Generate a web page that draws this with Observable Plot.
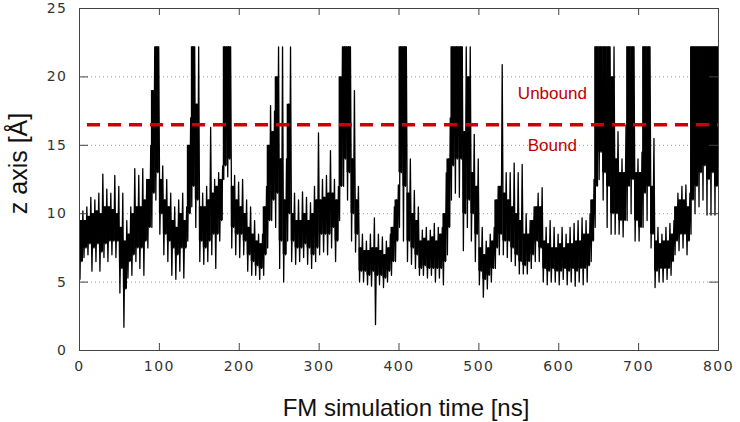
<!DOCTYPE html>
<html><head><meta charset="utf-8">
<script src="https://cdn.jsdelivr.net/npm/d3@7"></script>
<script src="https://cdn.jsdelivr.net/npm/@observablehq/plot@0.6"></script>
<style>
body{margin:0;background:#fff}
g[aria-label="x-axis tick label"] text, g[aria-label="y-axis tick label"] text{letter-spacing:1.5px}
</style></head><body><div id="chart"></div>
<script>
// FM simulation trace, summarized per 5 ns window
const binWidth = 5;
const times = d3.range(0, 800, binWidth);
const spikeLow = [
5.2,6.8,7.0,5.8,6.5,5.8,6.8,6.5,7.0,6.8,
4.2,1.7,5.3,5.5,6.5,6.0,5.5,7.5,9.0,11.0,
8.5,7.0,6.5,5.5,5.2,5.8,5.3,8.0,10.5,9.0,
6.5,6.3,6.5,7.0,6.0,8.0,12.5,12.7,7.5,7.0,
6.8,7.0,5.8,5.5,5.5,5.2,5.5,7.5,9.5,9.0,
6.0,5.0,8.0,6.5,6.3,6.5,6.8,6.3,6.0,6.5,
7.0,7.2,7.0,7.5,6.5,9.5,12.0,11.0,8.0,7.2,
5.0,5.0,4.8,4.7,1.9,4.8,4.6,5.0,5.5,6.5,
9.0,8.0,6.5,6.3,6.0,5.5,5.5,5.3,5.5,5.0,
5.3,4.8,7.0,11.0,11.5,11.2,7.3,9.0,8.0,6.5,
4.8,3.9,4.5,5.0,6.0,7.0,7.0,6.8,6.5,6.2,
5.6,5.6,5.6,6.0,6.5,6.5,5.0,4.8,5.0,5.0,
4.8,5.2,4.8,5.0,4.7,5.0,4.8,5.0,6.5,9.0,
12.5,11.0,9.0,8.5,8.5,8.5,8.3,9.5,10.0,8.0,
8.0,9.0,9.5,7.5,4.6,5.0,5.0,5.2,5.5,7.0,
7.3,7.5,7.0,8.5,10.0,10.5,11.0,9.9,9.9,9.9];
const coreLow = [
6.5,7.5,7.8,7.5,7.8,7.2,7.8,8.0,8.0,8.0,
6.0,4.5,6.5,7.0,7.5,7.5,8.0,9.0,11.5,13.0,
10.0,8.5,8.0,7.5,7.0,7.5,7.5,10.0,12.0,11.0,
8.0,7.5,8.0,8.5,8.5,9.5,13.5,14.0,9.0,8.5,
8.5,8.0,7.0,6.5,6.2,6.0,7.0,9.5,11.0,11.5,
8.0,7.0,10.0,8.0,7.5,7.5,7.8,7.5,7.0,7.5,
8.5,8.5,8.5,9.0,8.0,12.0,14.0,13.0,10.0,8.5,
5.8,5.8,5.5,5.8,5.5,5.5,5.3,5.8,6.5,8.0,
13.0,12.0,8.0,7.5,7.0,6.0,6.2,6.0,6.0,6.0,
6.0,6.5,9.0,13.5,14.0,14.0,10.0,11.0,10.0,8.5,
5.8,5.2,5.5,6.0,7.5,8.5,8.0,8.0,7.5,7.0,
6.5,6.2,6.5,7.0,8.0,7.5,6.0,5.8,6.0,5.8,
5.8,6.0,5.8,6.0,5.8,6.0,6.0,6.2,8.0,12.0,
14.5,13.0,12.0,10.0,10.0,9.5,9.5,12.0,12.5,9.5,
9.0,11.5,12.0,8.5,5.8,6.0,6.0,6.0,6.5,8.0,
8.5,8.5,8.0,11.0,12.0,13.0,13.5,12.5,13.0,12.0];
const coreHigh = [
9.5,9.5,9.8,10.0,10.2,10.0,10.5,10.5,10.3,10.0,
9.0,8.0,8.5,10.0,10.5,10.5,11.0,12.5,19.0,22.2,
12.5,11.0,10.5,9.5,9.0,10.0,9.5,15.0,22.2,18.0,
10.5,10.5,11.0,11.5,12.0,12.5,22.2,22.2,12.0,11.0,
10.5,10.0,9.0,8.5,8.0,7.8,10.5,15.0,16.0,20.0,
14.0,11.0,18.0,10.0,9.5,9.5,10.0,9.5,10.0,11.0,
11.0,11.2,11.5,11.5,11.0,20.0,22.2,22.2,14.0,11.0,
7.5,7.3,7.3,7.5,7.5,7.3,7.0,7.5,9.0,11.0,
22.2,22.2,11.5,10.0,9.5,8.0,8.2,8.0,8.3,8.0,
8.5,10.0,14.0,22.2,22.2,22.2,16.0,20.0,13.0,12.0,
7.5,7.0,7.5,8.0,11.0,12.0,11.5,11.0,10.5,10.0,
9.5,8.5,8.5,9.5,10.5,10.5,8.0,7.8,7.5,7.5,
7.8,7.5,7.8,7.8,8.0,8.0,8.5,8.5,11.0,22.2,
22.2,22.2,22.2,20.0,14.0,13.0,13.0,22.2,22.2,13.0,
13.0,22.2,22.2,12.0,8.0,7.8,8.0,8.0,8.5,10.5,
11.0,11.0,10.5,22.2,22.2,22.2,22.2,22.2,22.2,22.2];
const spikeHigh = [
10.2,10.5,11.2,11.0,11.5,12.9,11.8,11.5,12.8,12.0,
11.5,9.5,10.5,13.3,12.8,13.3,12.5,15.0,22.2,22.2,
13.5,12.5,11.5,10.5,11.0,11.5,10.5,17.0,22.2,22.2,
11.5,12.0,16.3,12.5,13.0,13.5,22.2,22.2,12.8,12.3,
12.5,11.0,10.5,9.5,8.5,8.5,12.0,17.9,17.5,22.2,
22.2,14.0,22.2,11.5,11.0,11.6,11.2,10.8,12.0,15.9,
12.5,12.8,14.6,12.5,12.0,22.2,22.2,22.2,19.0,12.0,
8.5,8.0,8.5,9.7,8.5,8.3,8.0,8.5,10.5,12.1,
22.2,22.2,14.0,11.7,10.5,8.8,9.0,8.8,9.3,9.0,
9.0,13.0,17.0,22.2,22.2,22.2,22.2,22.2,15.8,14.0,
9.0,8.0,8.5,9.0,12.0,20.9,13.0,13.0,13.7,13.0,
13.6,10.0,9.5,10.5,11.5,11.9,9.0,9.5,9.0,8.5,
9.0,8.5,9.0,9.3,9.5,9.7,9.5,10.0,12.5,22.2,
22.2,22.2,22.2,22.2,16.0,14.0,16.5,22.2,22.2,14.0,
14.5,22.2,22.2,15.5,9.0,8.5,9.0,9.3,9.5,11.5,
12.0,12.1,11.5,22.2,22.2,22.2,22.2,22.2,22.2,22.2];

const xTicks = [0,100,200,300,400,500,600,700,800];
const yTicks = [0,5,10,15,20,25];
const gridValues = [5,10,15,20];
const innerXTicks = [100,200,300,400,500,600,700];
const innerYTicks = [5,10,15,20];
const threshold = [{z: 16.5, start: 10, end: 800}];
const annotations = [{label: "Unbound", t: 592, z: 18.8}, {label: "Bound", t: 592, z: 14.95}];
const xTitle = "FM simulation time [ns]";
const yTitle = "z axis [Å]";

const bins = times.map((t, i) => ({t, lo: spikeLow[i], clo: coreLow[i], chi: coreHigh[i], hi: spikeHigh[i]}));
// each window's four read values, visited in turn so the trace zigzags like the original noise
const zig = bins.flatMap(b => [
  {t: b.t + 0.6, z: b.lo}, {t: b.t + 1.8, z: b.chi}, {t: b.t + 3.0, z: b.clo}, {t: b.t + 4.2, z: b.hi}
]);

const plot = Plot.plot({
  width: 740, height: 422,
  marginLeft: 79, marginRight: 22, marginTop: 8, marginBottom: 72,
  x: {domain: [0, 800]},
  y: {domain: [0, 25]},
  style: {fontFamily: "DejaVu Sans", fontSize: "14px", color: "#333", background: "#fff"},
  marks: [
    Plot.ruleY(gridValues, {y: d => d, stroke: "#9a9a9a", strokeWidth: 1, strokeDasharray: "1,3"}),
    Plot.rectY(bins, {x1: "t", x2: d => d.t + binWidth, y1: "clo", y2: "chi", fill: "#000"}),
    Plot.lineY(zig, {x: "t", y: "z", stroke: "#000", strokeWidth: 1.3}),
    Plot.ruleY(threshold, {y: "z", x1: "start", x2: "end", stroke: "#cc0000", strokeWidth: 3.5, strokeDasharray: "13,8"}),
    Plot.text(annotations, {x: "t", y: "z", text: "label", fill: "#c00000", fontFamily: "Liberation Sans", fontSize: 17}),
    Plot.frame({stroke: "#444"}),
    Plot.ruleY(innerYTicks, {y: d => d, insetRight: 630, stroke: "#444"}),
    Plot.ruleY(innerYTicks, {y: d => d, insetLeft: 630, stroke: "#444"}),
    Plot.ruleX(innerXTicks, {x: d => d, insetBottom: 335, stroke: "#444"}),
    Plot.ruleX(innerXTicks, {x: d => d, insetTop: 335, stroke: "#444"}),
    Plot.axisX({ticks: xTicks, tickSize: 0, tickPadding: 11, label: null}),
    Plot.axisY({ticks: yTicks, tickSize: 0, tickPadding: 12, label: null}),
    Plot.text([xTitle], {frameAnchor: "bottom", textAnchor: "middle", lineAnchor: "middle", dx: 7, dy: 58, fontSize: 24, fontFamily: "Liberation Sans", fill: "#111", text: d => d}),
    Plot.text([yTitle], {frameAnchor: "left", textAnchor: "middle", lineAnchor: "middle", rotate: -90, dx: -61, dy: -16, fontSize: 25, fontFamily: "Liberation Sans", fill: "#111", text: d => d})
  ]
});
document.getElementById("chart").append(plot);
</script></body></html>
